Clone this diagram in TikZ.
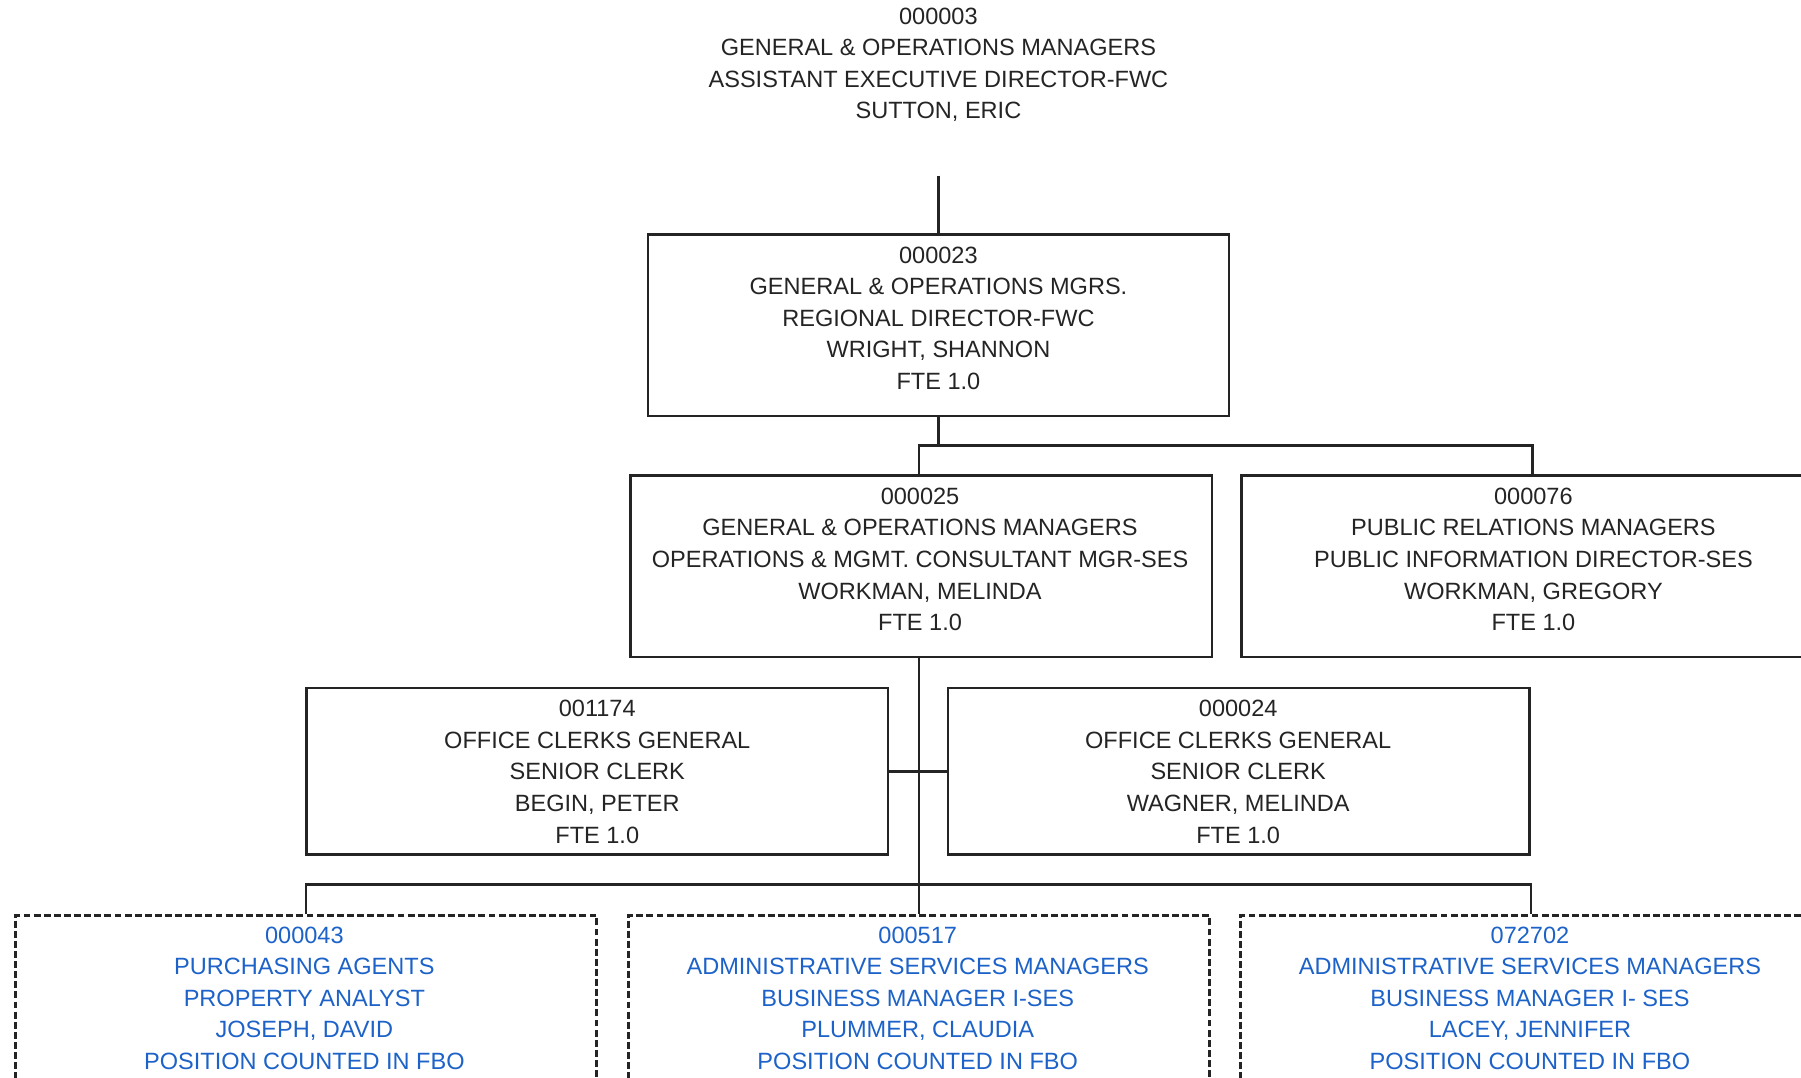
\documentclass[tikz,border=0pt]{standalone}
\usepackage{fontspec}
\setmainfont{Liberation Sans}
\definecolor{ink}{RGB}{36,36,36}
\definecolor{fbo}{RGB}{28,98,200}
\begin{document}
\begin{tikzpicture}[x=0.5pt,y=-0.5pt,
  post/.style={draw=ink, line width=1.1pt, minimum width=253pt, inner sep=0pt},
  tall/.style={post, minimum height=79pt},
  short/.style={post, minimum height=72.5pt},
  vacant/.style={short, dash pattern=on 3pt off 1.4pt},
  cardtext/.style={font=\fontsize{10.25}{13.75}\selectfont, align=center, inner sep=0pt, text=ink},
  fbotext/.style={cardtext, text=fbo},
  link/.style={draw=ink, line width=1.1pt}]
\path[use as bounding box] (0,0) rectangle (1568,938);
\clip (0,0) rectangle (1568,938);

% head of the unit (no box)
\node[cardtext] (head) at (817,56.5) {000003\\GENERAL \& OPERATIONS MANAGERS\\ASSISTANT EXECUTIVE DIRECTOR-FWC\\SUTTON, ERIC};
\coordinate (headstub) at (817,153);

% boxes
\node[tall] (A) at (817,283) {};
\node[tall] (B) at (802,493) {};
\node[tall] (C) at (1334,493) {};
\node[short] (D) at (520,671.5) {};
\node[short] (E) at (1078.5,671.5) {};
\node[vacant] (F) at (266.5,869.5) {};
\node[vacant] (G) at (800,869.5) {};
\node[vacant] (H) at (1333,869.5) {};

% box texts
\node[cardtext] (At) at (817,277) {000023\\GENERAL \& OPERATIONS MGRS.\\REGIONAL DIRECTOR-FWC\\WRIGHT, SHANNON\\FTE 1.0};
\node[cardtext] (Bt) at (801,487) {000025\\GENERAL \& OPERATIONS MANAGERS\\OPERATIONS \& MGMT. CONSULTANT MGR-SES\\WORKMAN, MELINDA\\FTE 1.0};
\node[cardtext] (Ct) at (1335,487) {000076\\PUBLIC RELATIONS MANAGERS\\PUBLIC INFORMATION DIRECTOR-SES\\WORKMAN, GREGORY\\FTE 1.0};
\node[cardtext] (Dt) at (520,672) {001174\\OFFICE CLERKS GENERAL\\SENIOR CLERK\\BEGIN, PETER\\FTE 1.0};
\node[cardtext] (Et) at (1078,672) {000024\\OFFICE CLERKS GENERAL\\SENIOR CLERK\\WAGNER, MELINDA\\FTE 1.0};
\node[fbotext] (Ft) at (265,869) {000043\\PURCHASING AGENTS\\PROPERTY ANALYST\\JOSEPH, DAVID\\POSITION COUNTED IN FBO};
\node[fbotext] (Gt) at (799,869) {000517\\ADMINISTRATIVE SERVICES MANAGERS\\BUSINESS MANAGER I-SES\\PLUMMER, CLAUDIA\\POSITION COUNTED IN FBO};
\node[fbotext] (Ht) at (1332,869) {072702\\ADMINISTRATIVE SERVICES MANAGERS\\BUSINESS MANAGER I- SES\\LACEY, JENNIFER\\POSITION COUNTED IN FBO};

% reporting lines
\draw[link] (headstub) -- (A.north);
\draw[link] (A.south) -- (A.south |- 0,388);
\draw[link] (G.north |- B.north) -- (G.north |- 0,388) -- (C.north |- 0,388) -- (C.north);
\draw[link] (G.north |- B.south) -- (G.north);
\draw[link] (D.east) -- (E.west);
\draw[link] (F.north) -- (F.north |- 0,770) -- (H.north |- 0,770) -- (H.north);
\end{tikzpicture}
\end{document}
